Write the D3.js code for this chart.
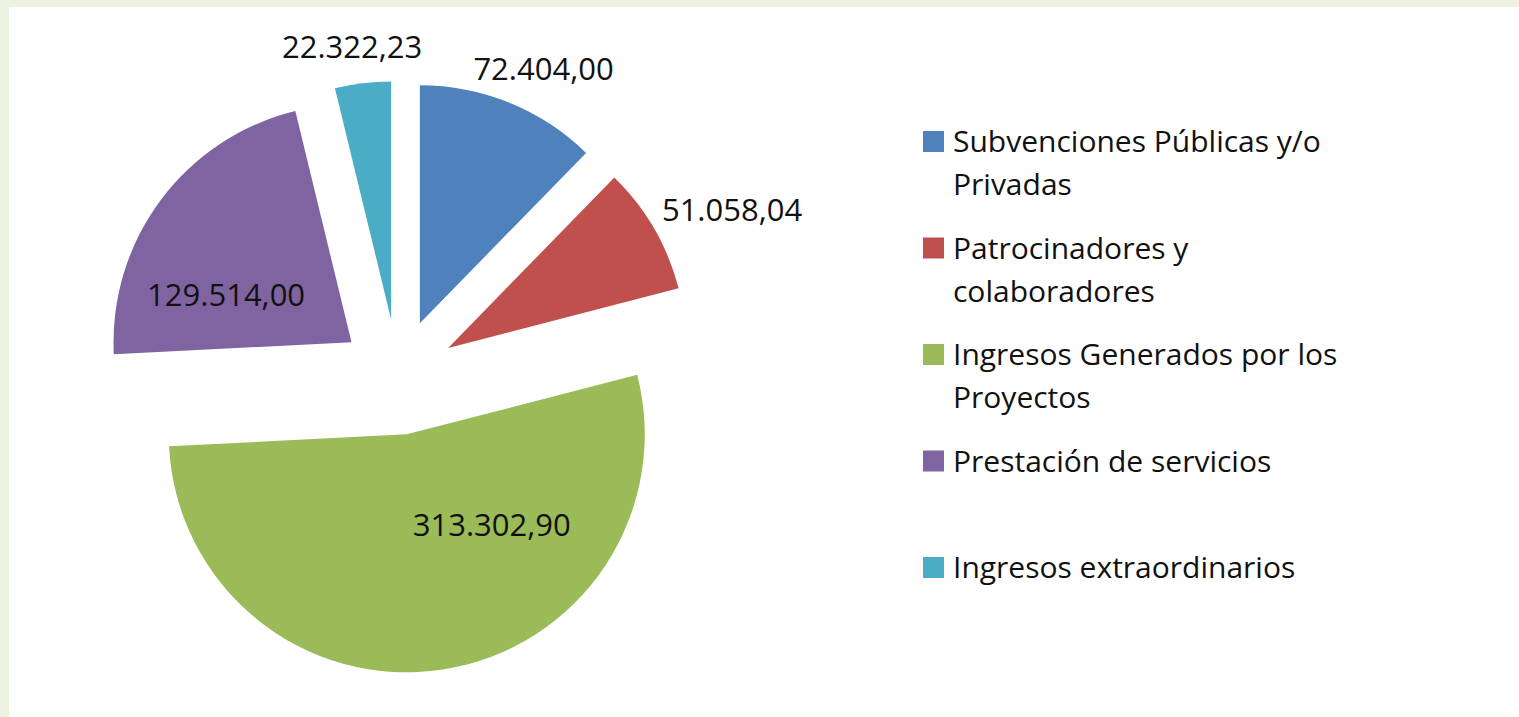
<!DOCTYPE html>
<html>
<head>
<meta charset="utf-8">
<script src="https://cdn.jsdelivr.net/npm/d3@7"></script>
<style>
  body { margin: 0; background: #eef2e1; }
  svg { display: block; }
  text { font-family: "Open Sans", sans-serif; fill: #111; }
</style>
</head>
<body>
<svg id="chart"></svg>
<script>
// data
var categories = [
  "Subvenciones Públicas y/o Privadas",
  "Patrocinadores y colaboradores",
  "Ingresos Generados por los Proyectos",
  "Prestación de servicios",
  "Ingresos extraordinarios"
];
var values = [72404.00, 51058.04, 313302.90, 129514.00, 22322.23];
var valueLabels = ["72.404,00", "51.058,04", "313.302,90", "129.514,00", "22.322,23"];
var colors = ["#4f81bd", "#c0504d", "#9bbb59", "#8064a2", "#4bacc6"];

var width = 1519,
    height = 717,
    cx = 398, cy = 377,   // pie centre
    radius = 238,
    explode = 58;

var svg = d3.select("#chart")
  .attr("width", width)
  .attr("height", height);

// white panel on the pale frame
svg.append("rect").attr("width", width).attr("height", height).attr("fill", "#eef2e1");
svg.append("rect").attr("x", 9).attr("y", 7).attr("width", width - 9).attr("height", height - 7).attr("fill", "#fff");

var color = d3.scaleOrdinal().domain(categories).range(colors);

var data = categories.map(function(c, i) { return {cat: c, value: values[i], label: valueLabels[i]}; });
var total = d3.sum(values);

var pie = d3.pie().sort(null).value(function(d) { return d.value; });
var arcs = pie(data);

var arc = d3.arc().innerRadius(0).outerRadius(radius);

// offset of every exploded slice
arcs.forEach(function(d) {
  var a = (d.startAngle + d.endAngle) / 2;
  d.mid = a;
  d.ox = cx + explode * Math.sin(a);
  d.oy = cy - explode * Math.cos(a);
});

var pieG = svg.append("g");

pieG.selectAll("path")
  .data(arcs)
  .enter().append("path")
    .attr("transform", function(d) { return "translate(" + d.ox + "," + d.oy + ")"; })
    .attr("d", arc)
    .attr("fill", function(d) { return color(d.data.cat); });

// value labels: big slices inside, small ones just outside
var labels = pieG.selectAll("text.val")
  .data(arcs)
  .enter().append("text")
    .attr("class", "val")
    .style("font-size", "31px")
    .attr("text-anchor", "middle")
    .attr("dy", "0.36em")
    .text(function(d) { return d.data.label; });

labels.each(function(d) {
  var t = d3.select(this);
  var inside = d.data.value / total > 0.15;
  var x, y;
  if (inside) {
    var a = d.startAngle + 0.31 * (d.endAngle - d.startAngle);
    var rr = radius * 0.54;
    x = d.ox + rr * Math.sin(a) - 6;
    y = d.oy - rr * Math.cos(a);
  } else {
    var w = this.getComputedTextLength(), h = 34;
    var R = radius + 20;
    x = d.ox + R * Math.sin(d.mid) + Math.sin(d.mid) * w / 2;
    y = d.oy - R * Math.cos(d.mid) - Math.cos(d.mid) * h / 2;
  }
  t.attr("x", x).attr("y", y);
});

// legend, one even slot per entry, text wrapped
var legX = 923, legY = 152, slot = 106.5, lineH = 43, sw = 21, maxW = 405;

var leg = svg.append("g").selectAll("g")
  .data(categories)
  .enter().append("g")
    .attr("transform", function(d, i) { return "translate(" + legX + "," + (legY + i * slot) + ")"; });

leg.append("rect")
  .attr("x", 0).attr("y", -sw)
  .attr("width", sw).attr("height", sw)
  .attr("fill", function(d) { return color(d); });

leg.append("text")
  .style("font-size", "30px")
  .attr("x", 30)
  .each(function(d) {
    var t = d3.select(this), words = d.split(" "), line = [], n = 0;
    var ts = t.append("tspan").attr("x", 30).attr("y", 0);
    words.forEach(function(w) {
      line.push(w);
      ts.text(line.join(" "));
      if (ts.node().getComputedTextLength() > maxW && line.length > 1) {
        line.pop();
        ts.text(line.join(" "));
        line = [w];
        n++;
        ts = t.append("tspan").attr("x", 30).attr("y", n * lineH).text(w);
      }
    });
  });
</script>
</body>
</html>
